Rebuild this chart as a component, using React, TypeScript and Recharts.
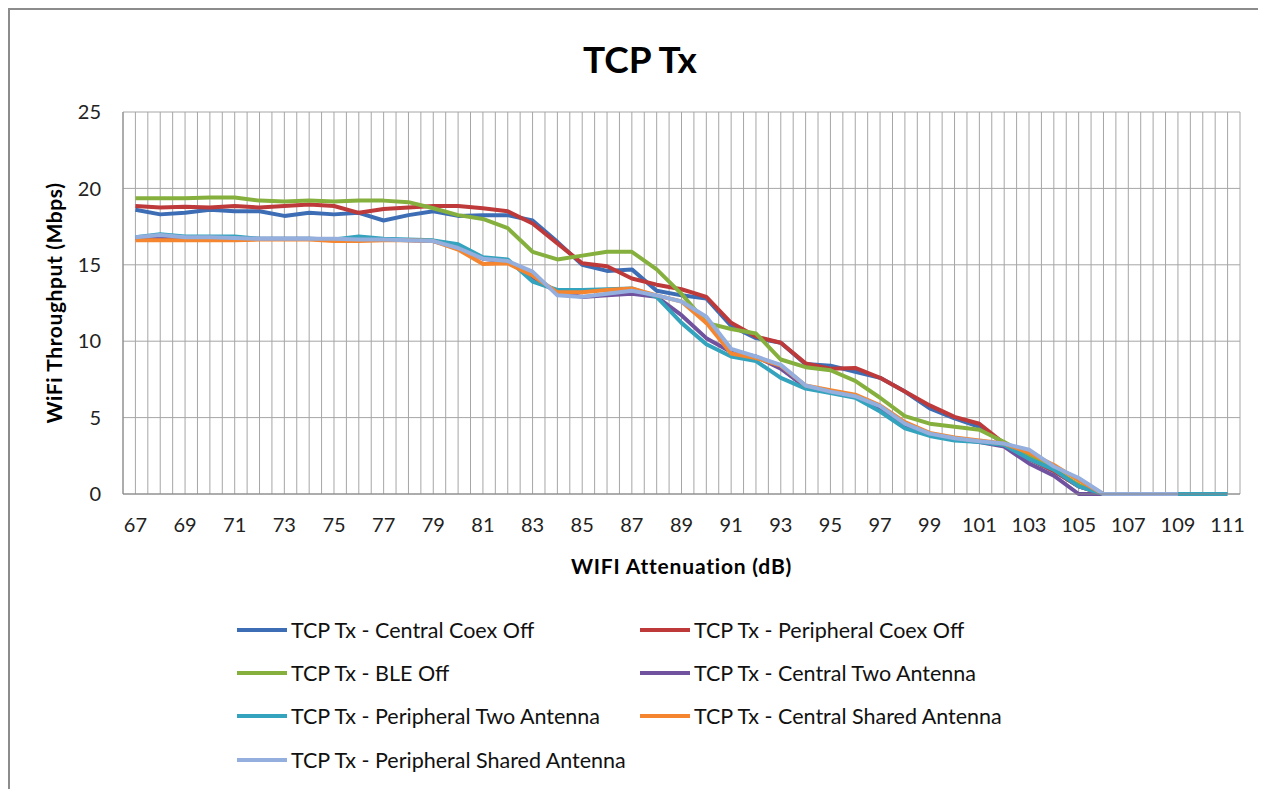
import { CartesianGrid, Label, Line, LineChart, XAxis, YAxis } from "recharts";

const attenuation = [
  67, 68, 69, 70, 71, 72, 73, 74, 75, 76, 77, 78, 79, 80, 81, 82, 83, 84, 85, 86, 87, 88, 89,
  90, 91, 92, 93, 94, 95, 96, 97, 98, 99, 100, 101, 102, 103, 104, 105, 106, 107, 108, 109,
  110, 111,
];

const xTickLabels = [
  67, 69, 71, 73, 75, 77, 79, 81, 83, 85, 87, 89, 91, 93, 95, 97, 99, 101, 103, 105, 107, 109, 111,
];
const yTicks = [0, 5, 10, 15, 20, 25];

const centralCoexOff = [
  18.6, 18.3, 18.4, 18.6, 18.5, 18.5, 18.2, 18.4, 18.3, 18.4,
  17.9, 18.25, 18.5, 18.2, 18.25, 18.25, 17.9, 16.5, 15.0, 14.6,
  14.7, 13.3, 13.0, 12.8, 11.0, 10.2, 9.9, 8.5, 8.4, 8.0,
  7.6, 6.7, 5.6, 4.95, 4.4, 3.3, 2.3, 1.5, 0.5, 0,
  0, 0, 0, null, null,
];
const peripheralCoexOff = [
  18.85, 18.75, 18.8, 18.75, 18.85, 18.75, 18.85, 18.95, 18.85, 18.4,
  18.65, 18.75, 18.85, 18.85, 18.7, 18.5, 17.7, 16.4, 15.1, 14.9,
  14.1, 13.7, 13.4, 12.9, 11.2, 10.3, 9.9, 8.55, 8.2, 8.25,
  7.6, 6.7, 5.8, 5.05, 4.6, 3.3, 2.3, 1.5, 0.5, 0,
  0, 0, 0, null, null,
];
const bleOff = [
  19.35, 19.35, 19.35, 19.4, 19.4, 19.2, 19.15, 19.2, 19.15, 19.2,
  19.2, 19.1, 18.7, 18.25, 18.0, 17.4, 15.85, 15.35, 15.6, 15.85,
  15.85, 14.7, 13.1, 11.2, 10.8, 10.5, 8.8, 8.3, 8.1, 7.4,
  6.3, 5.1, 4.6, 4.4, 4.2, 3.4, 2.5, 1.6, 0.6, 0,
  0, 0, 0, null, null,
];
const centralTwoAntenna = [
  16.75, 16.8, 16.75, 16.75, 16.7, 16.7, 16.7, 16.7, 16.65, 16.65,
  16.65, 16.6, 16.55, 16.1, 15.4, 15.2, 14.2, 13.2, 12.9, 13.0,
  13.1, 12.9, 11.7, 10.2, 9.3, 9.0, 8.2, 7.0, 6.7, 6.4,
  5.6, 4.5, 3.9, 3.6, 3.4, 3.1, 2.0, 1.2, 0, 0,
  0, 0, 0, null, null,
];
const peripheralTwoAntenna = [
  16.8, 17.0, 16.85, 16.85, 16.85, 16.7, 16.7, 16.7, 16.65, 16.85,
  16.7, 16.65, 16.6, 16.35, 15.5, 15.35, 13.9, 13.35, 13.35, 13.4,
  13.45, 12.9, 11.2, 9.8, 9.0, 8.7, 7.6, 6.9, 6.6, 6.3,
  5.4, 4.3, 3.8, 3.5, 3.4, 3.2, 2.3, 1.6, 0.5, 0,
  0, 0, 0, 0, 0,
];
const centralSharedAntenna = [
  16.6, 16.6, 16.6, 16.6, 16.6, 16.65, 16.65, 16.65, 16.55, 16.55,
  16.6, 16.6, 16.55, 16.0, 15.05, 15.1, 14.3, 13.2, 13.2, 13.35,
  13.45, 13.0, 12.6, 11.2, 9.2, 8.9, 8.4, 7.1, 6.8, 6.5,
  5.8, 4.7, 4.0, 3.7, 3.5, 3.3, 2.7, 1.9, 0.9, 0,
  0, 0, 0, null, null,
];
const peripheralSharedAntenna = [
  16.8, 16.95, 16.8, 16.8, 16.75, 16.7, 16.7, 16.7, 16.7, 16.65,
  16.65, 16.6, 16.55, 16.1, 15.4, 15.25, 14.55, 13.0, 12.9, 13.1,
  13.3, 13.0, 12.6, 11.6, 9.5, 9.0, 8.45, 7.1, 6.7, 6.4,
  5.75, 4.6, 3.95, 3.65, 3.45, 3.3, 2.9, 1.8, 1.05, 0,
  0, 0, 0, null, null,
];

const series = [
  { key: "s1", name: "TCP Tx - Central Coex Off", color: "#3d6db5", values: centralCoexOff },
  { key: "s2", name: "TCP Tx - Peripheral Coex Off", color: "#be3a3a", values: peripheralCoexOff },
  { key: "s3", name: "TCP Tx - BLE Off", color: "#86b03e", values: bleOff },
  { key: "s4", name: "TCP Tx - Central Two Antenna", color: "#70529f", values: centralTwoAntenna },
  { key: "s5", name: "TCP Tx - Peripheral Two Antenna", color: "#34a3be", values: peripheralTwoAntenna },
  { key: "s6", name: "TCP Tx - Central Shared Antenna", color: "#f5862f", values: centralSharedAntenna },
  { key: "s7", name: "TCP Tx - Peripheral Shared Antenna", color: "#94aedd", values: peripheralSharedAntenna },
];

const data = attenuation.map((x, i) => {
  const row: Record<string, number | null> = { x };
  series.forEach((s) => (row[s.key] = s.values[i]));
  return row;
});

// grid lines sit on every half step (category centres and boundaries)
const gridTicks = Array.from({ length: 91 }, (_, i) => 66.5 + i * 0.5);

const font = "Lato, 'Open Sans', sans-serif";

export default function App() {
  return (
    <div
      style={{
        position: "relative",
        width: 1250,
        height: 800,
        border: "2px solid #8c8c8c",
        background: "#fff",
        fontFamily: font,
      }}
    >
      <div
        style={{
          position: "absolute",
          top: 26,
          left: 0,
          width: 1260,
          textAlign: "center",
          fontSize: 37,
          fontWeight: 700,
          color: "#000",
        }}
      >
        TCP Tx
      </div>
      <LineChart
        width={1240}
        height={574}
        data={data}
        margin={{ top: 102, right: 10, bottom: 0, left: 0 }}
        style={{ position: "absolute", top: 0, left: 0 }}
      >
        <CartesianGrid stroke="#a6a6a6" strokeWidth={1} />
        <XAxis
          dataKey="x"
          type="number"
          domain={[66.5, 111.5]}
          ticks={gridTicks}
          interval={0}
          tickFormatter={(v: number) => (xTickLabels.includes(v) ? String(v) : "")}
          tickLine={false}
          tickMargin={18}
          axisLine={{ stroke: "#868686" }}
          tick={{ fill: "#222", fontSize: 20, fontFamily: font }}
          height={90}
        >
          <Label
            value="WIFI Attenuation (dB)"
            position="insideBottom"
            offset={10}
            style={{ fontSize: 21, fontWeight: 700, fill: "#000", fontFamily: font, letterSpacing: 0.8 }}
          />
        </XAxis>
        <YAxis
          domain={[0, 25]}
          ticks={yTicks}
          interval={0}
          tickLine={false}
          tickMargin={16}
          axisLine={{ stroke: "#868686" }}
          tick={{ fill: "#222", fontSize: 20, fontFamily: font }}
          width={113}
        >
          <Label
            value="WiFi Throughput  (Mbps)"
            angle={-90}
            position="insideLeft"
            offset={45}
            style={{
              fontSize: 21,
              fontWeight: 700,
              fill: "#000",
              fontFamily: font,
              textAnchor: "middle",
              whiteSpace: "pre",
              letterSpacing: 0.6,
            }}
          />
        </YAxis>
        {series.map((s) => (
          <Line
            key={s.key}
            dataKey={s.key}
            name={s.name}
            stroke={s.color}
            strokeWidth={4}
            strokeLinejoin="round"
            dot={false}
            activeDot={false}
            connectNulls={false}
            isAnimationActive={false}
          />
        ))}
      </LineChart>
      <div
        style={{
          position: "absolute",
          top: 598,
          left: 227,
          display: "grid",
          gridTemplateColumns: "403px 440px",
          rowGap: 0,
          fontSize: 21.5,
          color: "#111",
        }}
      >
        {series.map((s) => (
          <div key={s.key} style={{ display: "flex", alignItems: "center", height: 43.3 }}>
            <span
              style={{
                display: "inline-block",
                width: 50,
                height: 4,
                background: s.color,
                marginRight: 4,
              }}
            />
            <span style={{ whiteSpace: "nowrap" }}>{s.name}</span>
          </div>
        ))}
      </div>
    </div>
  );
}
